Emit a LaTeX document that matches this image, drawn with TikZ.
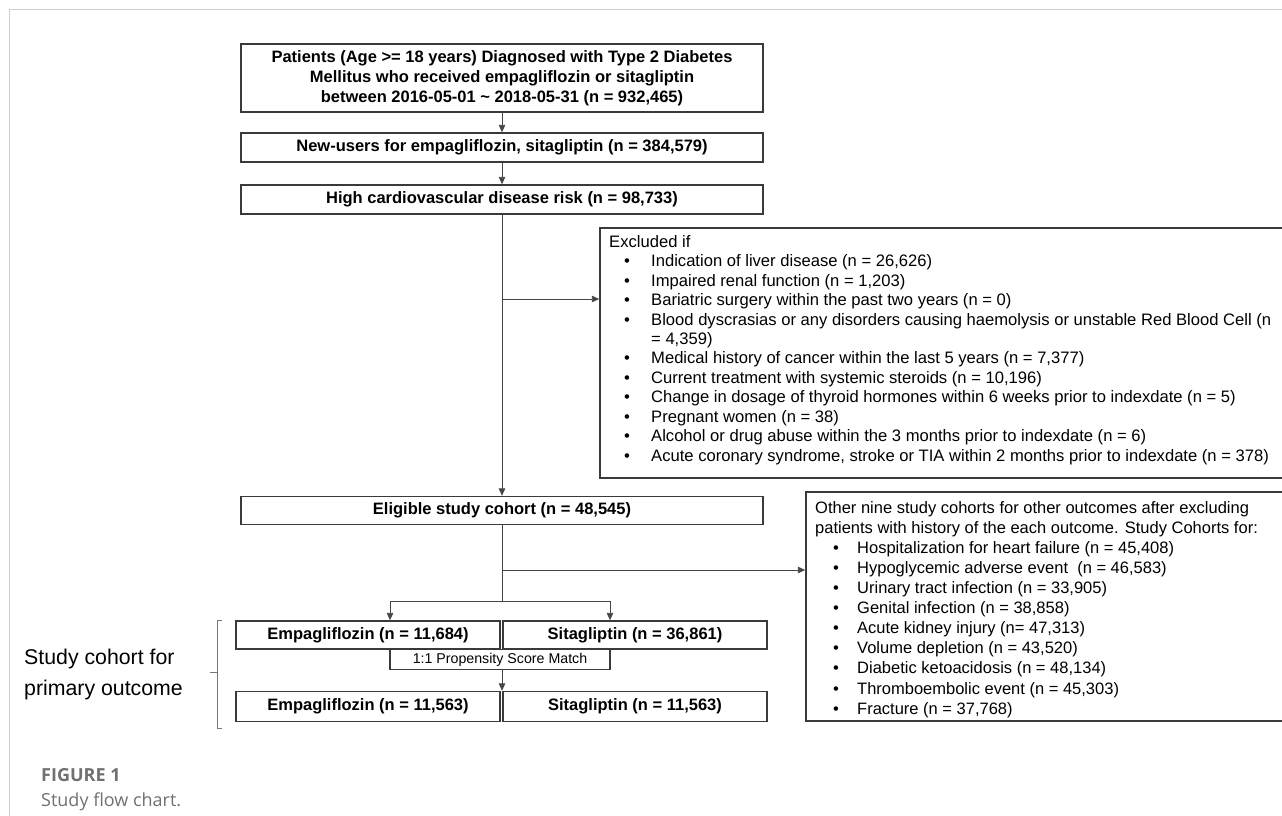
\documentclass[tikz,border=0pt]{standalone}
\usepackage{fontspec}
\setmainfont{Liberation Sans}
\newfontfamily\capfont{Open Sans}
\usetikzlibrary{arrows.meta}
\definecolor{boxc}{HTML}{3A3A3A}
\definecolor{linec}{HTML}{454545}
\definecolor{framec}{HTML}{CFCFCF}
\definecolor{capc}{HTML}{707070}
\definecolor{bracec}{HTML}{777777}
\newcommand{\exitem}[1]{\hspace*{15pt}\makebox[27pt][l]{•}#1}
\newcommand{\otitem}[1]{\hspace*{18pt}\makebox[24pt][l]{•}#1}
\begin{document}
\begin{tikzpicture}[x=1pt,y=-1pt,
  box/.style={draw=boxc, line width=1.4pt, inner sep=0pt, align=center,
    font=\fontsize{16.5}{20}\selectfont\bfseries},
  txtbox/.style={draw=boxc, line width=1.4pt, inner sep=0pt},
  conn/.style={draw=linec, line width=0.9pt},
  arr/.style={conn, -{Triangle[length=7.5pt,width=6.5pt]}},
  plain/.style={inner sep=0pt, align=left, anchor=north west}]
\useasboundingbox (0,0) rectangle (1282,816);
\clip (0,0) rectangle (1282,816);
% outer frame
\draw[framec, line width=1.2pt] (9.5,830) -- (9.5,9.5) -- (1290,9.5);

% main column
\node[box, minimum width=522pt, minimum height=68pt] (b1) at (502,78)
  {Patients (Age >= 18 years) Diagnosed with Type 2 Diabetes\\
   Mellitus who received empagliflozin or sitagliptin\\
   between 2016-05-01 \char`~\ 2018-05-31 (n = 932,465)};
\node[box, minimum width=522pt, minimum height=29pt] (b2) at (502,147.5)
  {New-users for empagliflozin, sitagliptin (n = 384,579)};
\node[box, minimum width=522pt, minimum height=29pt] (b3) at (502,199.5)
  {High cardiovascular disease risk (n = 98,733)};
\node[box, minimum width=522pt, minimum height=28pt] (elig) at (502,510.5)
  {Eligible study cohort (n = 48,545)};

% exclusion box
\node[txtbox, minimum width=690pt, minimum height=250pt] (excl) at (945,353) {};
\node[plain, font=\fontsize{16.6}{19.45}\selectfont] (excltxt) at (609,235)
  {Excluded if\\
   \exitem{Indication of liver disease (n = 26,626)}\\
   \exitem{Impaired renal function (n = 1,203)}\\
   \exitem{Bariatric surgery within the past two years (n = 0)}\\
   \exitem{Blood dyscrasias or any disorders causing haemolysis or unstable Red Blood Cell (n}\\
   \hspace*{42pt}= 4,359)\\
   \exitem{Medical history of cancer within the last 5 years (n = 7,377)}\\
   \exitem{Current treatment with systemic steroids (n = 10,196)}\\
   \exitem{Change in dosage of thyroid hormones within 6 weeks prior to indexdate (n = 5)}\\
   \exitem{Pregnant women (n = 38)}\\
   \exitem{Alcohol or drug abuse within the 3 months prior to indexdate (n = 6)}\\
   \exitem{Acute coronary syndrome, stroke or TIA within 2 months prior to indexdate (n = 378)}};

% other cohorts box
\node[txtbox, minimum width=490pt, minimum height=229pt] (other) at (1051,606.5) {};
\node[plain, font=\fontsize{16.5}{20.1}\selectfont] (othertxt) at (815,501)
  {Other nine study cohorts for other outcomes after excluding\\
   patients with history of the each outcome. Study Cohorts for:\\
   \otitem{Hospitalization for heart failure (n = 45,408)}\\
   \otitem{Hypoglycemic adverse event\ \ (n = 46,583)}\\
   \otitem{Urinary tract infection (n = 33,905)}\\
   \otitem{Genital infection (n = 38,858)}\\
   \otitem{Acute kidney injury (n= 47,313)}\\
   \otitem{Volume depletion (n = 43,520)}\\
   \otitem{Diabetic ketoacidosis (n = 48,134)}\\
   \otitem{Thromboembolic event (n = 45,303)}\\
   \otitem{Fracture (n = 37,768)}};

% treatment boxes
\node[box, minimum width=264pt, minimum height=28pt] (e1) at (368,635) {Empagliflozin (n = 11,684)};
\node[box, minimum width=264pt, minimum height=28pt] (s1) at (635,635) {Sitagliptin (n = 36,861)};
\node[draw=boxc, line width=1.1pt, inner sep=0pt, minimum width=220pt, minimum height=20pt,
  font=\fontsize{14.2}{16}\selectfont] (psm) at (500,659.5) {1:1 Propensity Score Match};
\node[box, minimum width=264pt, minimum height=30pt] (e2) at (368,706.5) {Empagliflozin (n = 11,563)};
\node[box, minimum width=264pt, minimum height=30pt] (s2) at (635,706.5) {Sitagliptin (n = 11,563)};

% connectors
\draw[arr] (b1.south) -- (b2.north);
\draw[arr] (b2.south) -- (b3.north);
\draw[arr] (b3.south) -- (elig.north);
\coordinate (j1) at (502,299);
\draw[arr] (j1) -- (excl.west |- j1);
\coordinate (j2) at (502,570);
\coordinate (j3) at (502,601);
\draw[conn] (elig.south) -- (j3);
\draw[arr] (j2) -- (other.west |- j2);
\coordinate (sl) at (390,601);
\coordinate (sr) at (610,601);
\draw[conn] (sl) -- (sr);
\draw[arr] (sl) -- (sl |- e1.north);
\draw[arr] (sr) -- (sr |- s1.north);
\draw[arr] (psm.south -| j3) -- (j3 |- e2.north);

% brace and side label
\coordinate (brt) at (222,620);
\coordinate (brb) at (222,728);
\draw[bracec, line width=0.8pt] (brt) -- (217,620) -- (217,728) -- (brb);
\draw[bracec, line width=0.8pt] (217,672) -- (210,672);
\node[plain, anchor=west, font=\fontsize{21.3}{31}\selectfont] (side) at (24,674)
  {Study cohort for\\primary outcome};

% caption
\node[plain, anchor=north west, text=capc, font=\capfont\fontsize{18}{25}\selectfont] (cap) at (41,768)
  {\textbf{FIGURE 1}\\Study flow chart.};
\end{tikzpicture}
\end{document}
